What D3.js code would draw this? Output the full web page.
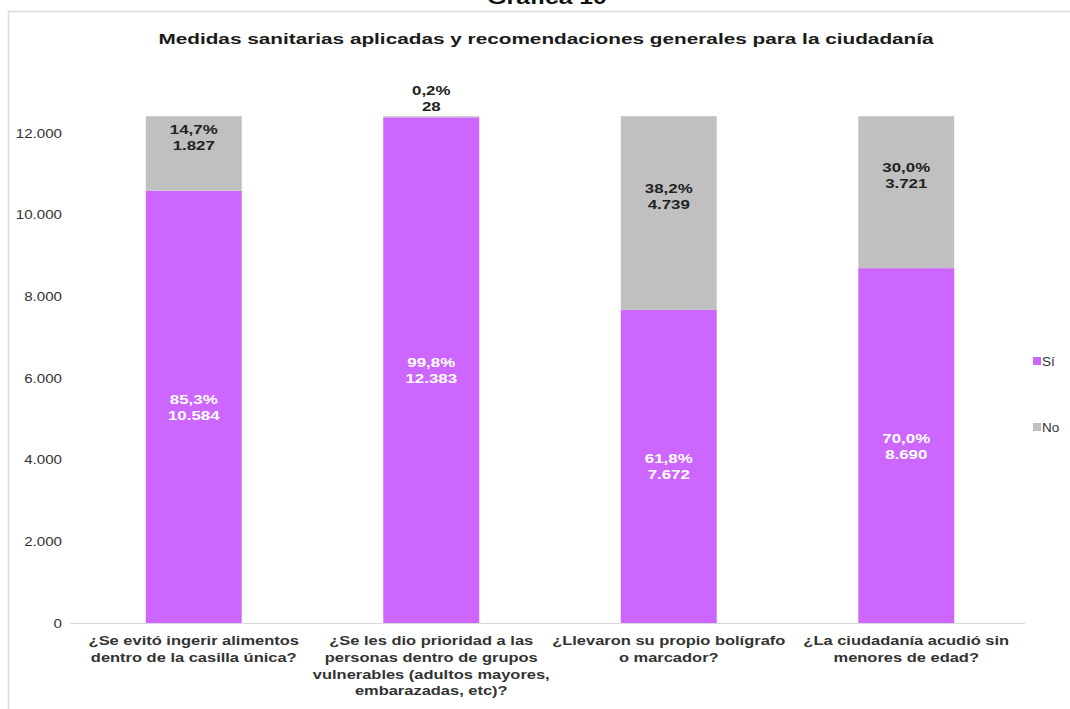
<!DOCTYPE html>
<html lang="es">
<head>
<meta charset="UTF-8">
<title>Gráfica 10</title>
<style>
  body { margin: 0; background: #fff; }
  svg { font-family: "Liberation Sans", Arial, sans-serif; display: block; }
</style>
</head>
<body>
<script src="https://cdnjs.cloudflare.com/ajax/libs/d3/7.8.5/d3.min.js"></script>
<script>
'use strict';

// données
const categories = [
  ["¿Se evitó ingerir alimentos", "dentro de la casilla única?"],
  ["¿Se les dio prioridad a las", "personas dentro de grupos", "vulnerables (adultos mayores,", "embarazadas, etc)?"],
  ["¿Llevaron su propio bolígrafo", "o marcador?"],
  ["¿La ciudadanía acudió sin", "menores de edad?"]
];
const si = [10584, 12383, 7672, 8690];
const no = [1827, 28, 4739, 3721];
const siPct = ["85,3%", "99,8%", "61,8%", "70,0%"];
const noPct = ["14,7%", "0,2%", "38,2%", "30,0%"];
const yTicks = [0, 2000, 4000, 6000, 8000, 10000, 12000];
const seriesNames = ["Sí", "No"];
const colors = ["#cc66ff", "#c0c0c0"];

const W = 1070, H = 709;
const svg = d3.select("body").append("svg")
  .attr("width", W)
  .attr("height", H);

const fmt = v => d3.format(",")(v).replace(/,/g, ".");

// texte centré, étiré en largeur comme l'image d'origine
function wideText(g, cx, y0, lines, opts) {
  const t = g.append("text")
    .attr("transform", `translate(${cx},0) scale(${opts.sx},1)`)
    .attr("text-anchor", "middle")
    .attr("font-size", opts.size)
    .attr("font-weight", opts.weight || "bold")
    .attr("fill", opts.color);
  lines.forEach((s, k) => {
    t.append("tspan").attr("x", 0).attr("y", y0 + k * opts.lh).text(s);
  });
  return t;
}

// cadre
svg.append("rect")
  .attr("x", 8.5).attr("y", 11.5)
  .attr("width", W).attr("height", H)
  .attr("fill", "none")
  .attr("stroke", "#dcdcdc")
  .attr("stroke-width", 1.5);

wideText(svg, 547, 4, ["Gráfica 10"], { size: 19, sx: 1.3, color: "#111", lh: 0 });
wideText(svg, 546, 44,
  ["Medidas sanitarias aplicadas y recomendaciones generales para la ciudadanía"],
  { size: 15.5, sx: 1.34, color: "#1a1a1a", lh: 0 });

const x = d3.scaleBand()
  .domain(d3.range(categories.length))
  .range([75, 1025])
  .paddingInner(0.596)
  .paddingOuter(0.298);

const y = d3.scaleLinear()
  .domain([0, 12000])
  .range([623, 133]);

// axe Y
const yAxis = svg.append("g")
  .attr("transform", "translate(62,0)")
  .call(d3.axisLeft(y).tickValues(yTicks).tickSize(0).tickPadding(0)
    .tickFormat(fmt));
yAxis.select(".domain").remove();
yAxis.selectAll("text")
  .attr("font-size", 13.5)
  .attr("font-family", "Liberation Sans, Arial, sans-serif")
  .attr("fill", "#333")
  .attr("transform", "scale(1.12,1)");

// barres empilées
const stacked = si.map((v, i) => ({ i, si: v, no: no[i] }));

svg.append("g").selectAll("rect")
  .data(stacked)
  .join("rect")
    .attr("x", d => x(d.i))
    .attr("width", x.bandwidth())
    .attr("y", d => y(d.si))
    .attr("height", d => y(0) - y(d.si))
    .attr("fill", colors[0]);

svg.append("g").selectAll("rect")
  .data(stacked)
  .join("rect")
    .attr("x", d => x(d.i))
    .attr("width", x.bandwidth())
    .attr("y", d => y(d.si + d.no))
    .attr("height", d => y(d.si) - y(d.si + d.no))
    .attr("fill", colors[1]);

// ligne de base
svg.append("line")
  .attr("x1", 70).attr("x2", 1025)
  .attr("y1", y(0) + 0.5).attr("y2", y(0) + 0.5)
  .attr("stroke", "#d9d9d9")
  .attr("stroke-width", 1);

// étiquettes de données
const lbl = svg.append("g");
stacked.forEach(d => {
  const cx = x(d.i) + x.bandwidth() / 2;
  const o = { size: 13.5, sx: 1.25, lh: 16 };
  wideText(lbl, cx, y(d.si / 2) - 3, [siPct[d.i], fmt(d.si)], { ...o, color: "#ffffff" });
  const h = y(d.si) - y(d.si + d.no);
  const ly = h > 40 ? y(d.si + d.no / 2) - 20 : y(d.si + d.no) - 21;
  wideText(lbl, cx, ly, [noPct[d.i], fmt(d.no)], { ...o, color: "#222" });
});

// catégories
const xl = svg.append("g");
categories.forEach((lines, i) => {
  const cx = x(i) + x.bandwidth() / 2;
  wideText(xl, cx, 645, lines, { size: 13.5, sx: 1.22, lh: 16.8, color: "#333" });
});

// légende
const leg = svg.append("g");
seriesNames.forEach((n, i) => {
  const ly = 361 + i * 66;
  leg.append("rect")
    .attr("x", 1033).attr("y", ly - 4)
    .attr("width", 8).attr("height", 8)
    .attr("fill", colors[i]);
  leg.append("text")
    .attr("x", 1042).attr("y", ly + 5)
    .attr("font-size", 13.5)
    .attr("fill", "#333")
    .text(n);
});
</script>
</body>
</html>
